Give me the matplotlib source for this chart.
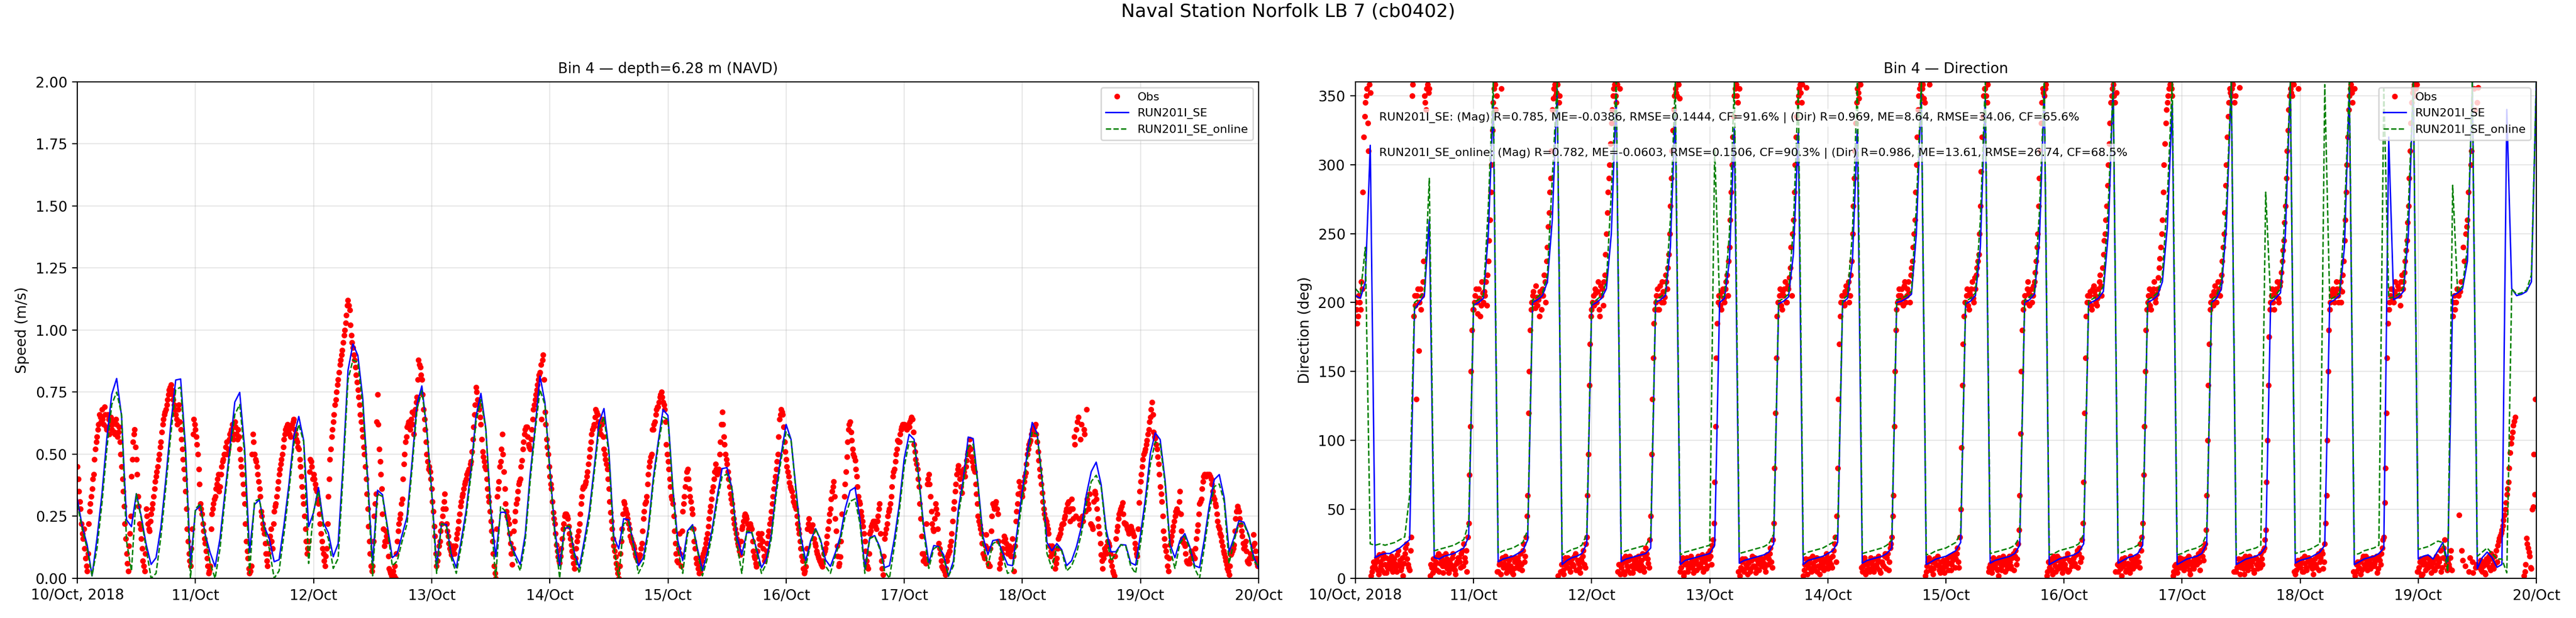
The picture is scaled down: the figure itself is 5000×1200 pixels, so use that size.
import numpy as np
import matplotlib
matplotlib.use("Agg")
import matplotlib.pyplot as plt
import matplotlib.dates as mdates
from matplotlib.ticker import MultipleLocator, FixedLocator, FixedFormatter, FormatStrFormatter
import datetime as dt

# ---------------- data ----------------
suptitle = "Naval Station Norfolk LB 7 (cb0402)"
title_speed = "Bin 4 \u2014 depth=6.28 m (NAVD)"
title_dir = "Bin 4 \u2014 Direction"
series_names = ["Obs", "RUN201I_SE", "RUN201I_SE_online"]
day_labels = ["10/Oct, 2018", "11/Oct", "12/Oct", "13/Oct", "14/Oct", "15/Oct",
              "16/Oct", "17/Oct", "18/Oct", "19/Oct", "20/Oct"]
stats_text = [
    "RUN201I_SE: (Mag) R=0.785, ME=-0.0386, RMSE=0.1444, CF=91.6% | (Dir) R=0.969, ME=8.64, RMSE=34.06, CF=65.6%",
    "RUN201I_SE_online: (Mag) R=0.782, ME=-0.0603, RMSE=0.1506, CF=90.3% | (Dir) R=0.986, ME=13.61, RMSE=26.74, CF=68.5%",
]

# observed speed (m/s), samples at :00, :20, :40 of each hour from 10 Oct 00:00
obs_speed_a = [
 0.45,0.35,0.28, 0.18,0.20,0.08, 0.03,0.22,0.30, 0.36,0.42,0.52, 0.57,0.62,0.65, 0.68,0.62,0.66, 0.60,0.64,0.62, 0.60,0.63,0.58, 0.62,0.59,0.55, 0.45,0.35,0.22,
 0.10,0.03,0.18, 0.41,0.55,0.60, 0.48,0.33,0.22, 0.16,0.07,0.03, 0.28,0.22,0.19, 0.26,0.30,0.36, 0.41,0.45,0.50, 0.55,0.62,0.66, 0.68,0.72,0.76, 0.78,0.74,0.70,
 0.66,0.62,0.70, 0.60,0.52,0.44, 0.35,0.20,0.10, 0.05,0.20,0.64, 0.60,0.54,0.44, 0.30,0.26,0.19, 0.14,0.08,0.02, 0.05,0.26,0.30, 0.33,0.38,0.42, 0.37,0.45,0.48,
 0.50,0.55,0.52, 0.58,0.60,0.56, 0.63,0.58,0.60, 0.52,0.45,0.38, 0.30,0.15,0.08, 0.02,0.05,0.58, 0.50,0.47,0.42, 0.36,0.27,0.22, 0.18,0.10,0.05, 0.14,0.20,0.12,
 0.27,0.30,0.36, 0.42,0.46,0.50, 0.56,0.60,0.62, 0.60,0.57,0.62, 0.64,0.58,0.55, 0.52,0.45,0.37, 0.30,0.20,0.10, 0.15,0.48,0.45, 0.42,0.38,0.35, 0.30,0.22,0.15,
 0.10,0.05,0.12, 0.33,0.48,0.57, 0.63,0.70,0.75, 0.80,0.86,0.90, 0.95,1.00,1.06, 1.12,1.08,0.98, 0.93,0.88,0.82, 0.76,0.70,0.63, 0.57,0.50,0.40, 0.28,0.15,0.05,
 0.05,0.25,0.34, 0.74,0.52,0.42, 0.26,0.13,0.19, 0.15,0.04,0.02, 0.02,0.01,0.00, 0.15,0.22,0.26, 0.32,0.46,0.55, 0.61,0.63,0.60, 0.67,0.58,0.68, 0.73,0.88,0.85,
 0.80,0.68,0.60, 0.50,0.44,0.43, 0.36,0.27,0.17, 0.05,0.10,0.15, 0.22,0.28,0.34, 0.22,0.17,0.12, 0.095,0.13,0.10, 0.16,0.20,0.26, 0.31,0.34,0.38, 0.40,0.43,0.44,
 0.47,0.56,0.66, 0.77,0.72,0.68, 0.62,0.51,0.47, 0.44,0.36,0.31, 0.23,0.15,0.05, 0.00,0.33,0.39, 0.47,0.58,0.43, 0.30,0.25,0.22, 0.14,0.055,0.19, 0.27,0.32,0.38,
 0.40,0.475,0.55, 0.60,0.61,0.54, 0.52,0.60,0.68, 0.72,0.76,0.80, 0.83,0.64,0.90, 0.67,0.56,0.50, 0.41,0.36,0.265, 0.22,0.135,0.087, 0.063,0.12,0.20, 0.25,0.26,0.24,
 0.18,0.135,0.087, 0.04,0.12,0.17, 0.22,0.30,0.36, 0.37,0.39,0.43, 0.49,0.55,0.60, 0.62,0.68,0.66, 0.61,0.58,0.64, 0.52,0.48,0.44, 0.36,0.265,0.20, 0.13,0.087,0.04,
 0.00,0.10,0.20, 0.31,0.28,0.26, 0.22,0.17,0.15, 0.13,0.10,0.08, 0.08,0.095,0.14, 0.24,0.30,0.33, 0.42,0.47,0.50, 0.60,0.63,0.68, 0.69,0.73,0.75, 0.71,0.68,0.54,
 0.47,0.40,0.33, 0.30,0.19,0.10, 0.065,0.18,0.05, 0.27,0.33,0.40, 0.44,0.36,0.31, 0.26,0.15,0.08, 0.06,0.02,0.05, 0.087,0.11,0.14, 0.18,0.24,0.29, 0.35,0.40,0.46,
 0.42,0.44,0.55, 0.67,0.57,0.50, 0.46,0.40,0.34, 0.30,0.24,0.20, 0.16,0.13,0.095, 0.20,0.23,0.26, 0.24,0.20,0.22, 0.20,0.11,0.08, 0.047,0.18,0.135, 0.18,0.12,0.07,
 0.11,0.17,0.22, 0.27,0.33,0.39, 0.44,0.50,0.64, 0.68,0.66,0.55, 0.48,0.43,0.385, 0.36,0.33,0.30, 0.28,0.22,0.18, 0.12,0.07,0.02, 0.047,0.20,0.24, 0.19,0.216,0.16,
 0.13,0.10,0.08, 0.063,0.047,0.10, 0.12,0.17,0.23, 0.28,0.35,0.39, 0.24,0.13,0.05, 0.087,0.26,None, 0.38,0.49,0.60, 0.63,0.555,0.50, 0.475,0.41,0.33, 0.30,0.25,0.21,
 0.15,0.07,0.04, 0.18,0.21,0.23, 0.23,0.20,0.25, 0.30,0.07,0.015, 0.16,0.20,0.25, 0.28,0.33,0.41, 0.44,0.50,0.555, 0.55,0.60,0.62, 0.62,0.61,0.61, 0.61,0.64,0.64,
 0.54,0.48,0.44, 0.37,0.24,0.10, 0.10,0.06,0.38, 0.42,0.33,0.22, 0.19,0.30,0.26, 0.14,0.10,0.047, 0.04,0.015,0.07, 0.10,0.13,0.18, 0.28,0.35,0.42, 0.455,0.40,0.345,
 0.44,0.41,0.475, 0.51,0.56,0.49, 0.45,0.43,0.34, 0.25,0.216,0.18, 0.10,0.08,0.176, 0.06,0.05,0.19, 0.30,0.28,0.31, 0.26,0.04,0.08, 0.12,0.17,0.14, 0.10,0.13,0.09,
 0.16,0.03,0.23, 0.30,0.39,0.345, 0.33,0.39,0.425, 0.50,0.54,0.555, 0.60,0.58,0.62, 0.55,0.475,0.41, 0.345,0.28,0.24, 0.216,0.18,0.09, 0.13,0.10,0.04, 0.08,0.16,0.18,
 0.216,0.22,0.25, 0.28,0.31,0.23, 0.32,0.24,0.54, 0.60,0.65,0.216, 0.62,0.23,0.58, 0.68,0.30,0.34, 0.216,0.20,0.35, 0.32,0.24,0.18, 0.095,0.04,0.12, 0.10,0.15,0.13,
 0.07,0.03,0.01, 0.16,0.21,0.26, 0.28,0.305,0.225, 0.22,0.20,0.18, 0.21,0.19,0.17, 0.12,0.09,0.305, 0.39,0.45,0.50, 0.52,0.555,0.60, 0.65,0.71,0.59, 0.565,0.52,0.46,
 0.37,0.31,0.19, 0.13,0.087,0.03, 0.135,0.17,0.21, 0.25,0.28,0.265, 0.35,0.19,0.144, 0.13,0.07,0.06, 0.06,0.11,0.09, 0.08,0.16,0.216, 0.30,0.32,0.39, 0.42,0.41,0.42,
 0.42,0.40,0.35, 0.32,0.29,0.23, 0.20,0.17,0.13, 0.10,0.07,0.04, 0.015,0.095,0.11, 0.135,0.24,0.29, 0.27,0.216,0.17, 0.12,0.15,0.07, 0.06,0.10,0.08, 0.176,0.11,0.06,
]
# observed speed (m/s), samples at :10, :30, :50 of each hour
obs_speed_b = [
 0.40,0.31,0.22, 0.16,0.12,0.05, 0.10,0.27,0.33, 0.40,0.48,0.55, 0.60,0.66,0.63, 0.64,0.69,0.61, 0.66,0.58,0.65, 0.62,0.59,0.64, 0.57,0.61,0.50, 0.40,0.29,0.16,
 0.06,0.13,0.25, 0.48,0.58,0.53, 0.42,0.29,0.20, 0.12,0.05,0.10, 0.25,0.20,0.23, 0.28,0.33,0.39, 0.43,0.48,0.53, 0.59,0.64,0.67, 0.70,0.74,0.77, 0.76,0.72,0.68,
 0.64,0.68,0.63, 0.56,0.48,0.40, 0.28,0.15,0.07, 0.12,0.58,0.62, 0.57,0.50,0.38, 0.28,0.22,0.16, 0.11,0.05,0.03, 0.20,0.28,0.32, 0.36,0.40,0.35, 0.42,0.47,0.50,
 0.53,0.50,0.56, 0.59,0.62,0.58, 0.61,0.56,0.57, 0.48,0.42,0.34, 0.22,0.11,0.04, 0.03,0.50,0.55, 0.48,0.45,0.39, 0.33,0.25,0.20, 0.14,0.07,0.10, 0.17,0.15,0.22,
 0.29,0.33,0.39, 0.44,0.48,0.53, 0.58,0.61,0.59, 0.58,0.61,0.63, 0.60,0.56,0.53, 0.48,0.41,0.33, 0.25,0.15,0.12, 0.43,0.47,0.40, 0.40,0.36,0.32, 0.26,0.18,0.12,
 0.07,0.09,0.22, 0.40,0.52,0.60, 0.66,0.72,0.78, 0.83,0.88,0.92, 0.98,1.03,1.10, 1.10,1.02,0.95, 0.90,0.85,0.79, 0.73,0.66,0.60, 0.53,0.45,0.34, 0.21,0.10,0.03,
 0.15,0.30,0.63, 0.62,0.47,0.36, 0.20,0.15,0.17, 0.09,0.03,0.01, 0.03,0.05,0.10, 0.19,0.24,0.30, 0.40,0.50,0.57, 0.62,0.61,0.64, 0.62,0.66,0.71, 0.80,0.86,0.82,
 0.74,0.64,0.55, 0.47,0.45,0.40, 0.31,0.21,0.10, 0.07,0.13,0.19, 0.25,0.31,0.28, 0.19,0.14,0.11, 0.11,0.12,0.13, 0.18,0.23,0.29, 0.33,0.36,0.39, 0.42,0.44,0.46,
 0.51,0.61,0.70, 0.75,0.70,0.65, 0.56,0.49,0.45, 0.40,0.33,0.27, 0.19,0.10,0.02, 0.20,0.36,0.45, 0.52,0.50,0.36, 0.27,0.24,0.18, 0.10,0.12,0.23, 0.30,0.35,0.39,
 0.45,0.52,0.58, 0.61,0.57,0.53, 0.56,0.64,0.70, 0.74,0.78,0.82, 0.86,0.88,0.80, 0.62,0.53,0.45, 0.38,0.31,0.24, 0.18,0.11,0.07, 0.09,0.16,0.22, 0.26,0.25,0.21,
 0.16,0.11,0.06, 0.08,0.15,0.19, 0.26,0.33,0.37, 0.38,0.41,0.46, 0.52,0.58,0.61, 0.65,0.67,0.63, 0.60,0.62,0.57, 0.50,0.46,0.40, 0.31,0.23,0.16, 0.11,0.06,0.02,
 0.05,0.15,0.26, 0.30,0.27,0.24, 0.20,0.16,0.14, 0.12,0.09,0.07, 0.09,0.12,0.19, 0.27,0.31,0.38, 0.45,0.49,0.60, 0.62,0.66,0.69, 0.71,0.74,0.73, 0.70,0.63,0.50,
 0.44,0.37,0.32, 0.25,0.14,0.07, 0.12,0.10,0.19, 0.30,0.37,0.43, 0.40,0.33,0.28, 0.20,0.12,0.06, 0.04,0.03,0.07, 0.10,0.12,0.16, 0.21,0.27,0.32, 0.37,0.43,0.44,
 0.43,0.50,0.62, 0.62,0.54,0.48, 0.43,0.37,0.32, 0.27,0.22,0.18, 0.14,0.11,0.15, 0.21,0.25,0.25, 0.22,0.21,0.21, 0.15,0.09,0.06, 0.11,0.16,0.16, 0.15,0.09,0.09,
 0.14,0.19,0.24, 0.30,0.36,0.41, 0.47,0.57,0.66, 0.67,0.61,0.51, 0.45,0.41,0.37, 0.35,0.31,0.29, 0.25,0.20,0.15, 0.09,0.04,0.03, 0.12,0.22,0.21, 0.20,0.19,0.14,
 0.11,0.09,0.07, 0.055,0.07,0.11, 0.14,0.20,0.26, 0.32,0.37,0.33, 0.19,0.09,0.06, 0.15,None,0.33, 0.43,0.55,0.62, 0.59,0.52,0.49, 0.44,0.37,0.31, 0.27,0.23,0.18,
 0.11,0.05,0.10, 0.19,0.22,0.22, 0.21,0.23,0.28, 0.18,0.04,0.09, 0.18,0.22,0.27, 0.30,0.37,0.43, 0.47,0.52,0.55, 0.58,0.61,0.62, 0.61,0.60,0.62, 0.63,0.65,0.59,
 0.51,0.46,0.40, 0.30,0.17,0.07, 0.08,0.22,0.40, 0.38,0.27,0.20, 0.24,0.28,0.20, 0.12,0.07,0.04, 0.03,0.04,0.09, 0.11,0.15,0.23, 0.31,0.38,0.44, 0.43,0.37,0.42,
 0.43,0.45,0.50, 0.53,0.52,0.47, 0.44,0.38,0.30, 0.23,0.20,0.14, 0.09,0.13,0.12, 0.05,0.12,0.25, 0.29,0.30,0.28, 0.15,0.06,0.10, 0.15,0.16,0.12, 0.11,0.11,0.12,
 0.09,0.13,0.27, 0.34,0.37,0.34, 0.36,0.41,0.46, 0.52,0.55,0.58, 0.59,0.61,0.58, 0.51,0.44,0.38, 0.31,0.26,0.23, 0.20,0.13,0.11, 0.12,0.07,0.06, 0.12,0.17,0.20,
 0.22,0.24,0.27, 0.30,0.27,0.28, 0.28,0.57,0.25, 0.63,0.24,0.56, 0.25,0.60,0.27, 0.32,0.28,0.22, 0.21,0.31,0.34, 0.28,0.21,0.14, 0.07,0.08,0.11, 0.13,0.14,0.10,
 0.05,0.02,0.09, 0.19,0.24,0.27, 0.29,0.26,0.22, 0.21,0.19,0.20, 0.20,0.18,0.14, 0.10,0.20,0.35, 0.42,0.48,0.51, 0.54,0.58,0.63, 0.68,0.66,0.57, 0.54,0.49,0.42,
 0.34,0.25,0.16, 0.11,0.05,0.08, 0.15,0.19,0.23, 0.27,0.27,0.31, 0.26,0.16,0.14, 0.10,0.065,0.06, 0.08,0.10,0.085, 0.12,0.19,0.26, 0.31,0.36,0.41, 0.415,0.42,0.42,
 0.41,0.38,0.33, 0.30,0.26,0.21, 0.18,0.15,0.11, 0.085,0.055,0.03, 0.05,0.10,0.12, 0.19,0.27,0.28, 0.24,0.19,0.14, 0.13,0.11,0.065, 0.08,0.09,0.13, 0.14,0.08,0.05,
]

# model speed (m/s), hourly from 10 Oct 00:00
se_speed = [
 0.32,0.21,0.136,0.01,0.16,0.337,0.563,0.741,0.805,0.652,0.236,0.208,0.341,0.249,0.136,0.056,0.083,0.208,0.402,0.62,
 0.799,0.803,0.523,0.056,0.273,0.293,0.176,0.103,0.047,0.16,0.345,0.523,0.71,0.749,0.523,0.105,0.297,0.317,0.208,0.16,
 0.067,0.075,0.216,0.378,0.571,0.652,0.555,0.208,0.265,0.366,0.224,0.184,0.087,0.14,0.458,0.838,0.944,0.898,0.725,0.402,
 0.059,0.355,0.337,0.21,0.083,0.10,0.176,0.249,0.466,0.70,0.775,0.60,0.353,0.047,0.22,0.216,0.095,0.043,0.152,0.273,
 0.442,0.652,0.745,0.604,0.28,0.087,0.266,0.266,0.144,0.095,0.055,0.176,0.418,0.604,0.815,0.709,0.442,0.20,0.051,0.20,
 0.207,0.103,0.043,0.152,0.265,0.442,0.628,0.684,0.515,0.168,0.119,0.24,0.236,0.14,0.051,0.083,0.20,0.40,0.547,0.68,
 0.656,0.362,0.152,0.071,0.192,0.216,0.119,0.031,0.103,0.20,0.33,0.442,0.446,0.362,0.168,0.095,0.184,0.184,0.119,0.043,
 0.079,0.176,0.362,0.50,0.62,0.56,0.362,0.168,0.071,0.152,0.20,0.156,0.075,0.048,0.103,0.168,0.28,0.353,0.366,0.24,
 0.039,0.164,0.172,0.128,0.043,0.051,0.16,0.297,0.483,0.58,0.56,0.40,0.20,0.063,0.132,0.128,0.095,0.008,0.071,0.28,
 0.40,0.569,0.563,0.378,0.168,0.095,0.152,0.156,0.103,0.055,0.051,0.20,0.353,0.507,0.628,0.584,0.40,0.144,0.111,0.14,
 0.115,0.051,0.071,0.128,0.208,0.337,0.43,0.468,0.378,0.20,0.107,0.107,0.136,0.134,0.063,0.053,0.176,0.321,0.503,0.586,
 0.559,0.394,0.136,0.083,0.152,0.18,0.128,0.051,0.043,0.16,0.297,0.398,0.418,0.325,0.107,0.164,0.232,0.226,0.176,0.087,
 0.039,
]
online_speed = [
 0.30,0.20,0.12,0.01,0.12,0.30,0.52,0.70,0.75,0.66,0.15,0.03,0.34,0.24,0.12,0.0,0.02,0.17,0.37,0.58,
 0.76,0.77,0.50,0.0,0.28,0.30,0.17,0.06,0.0,0.12,0.32,0.50,0.66,0.70,0.50,0.02,0.31,0.32,0.20,0.12,
 0.0,0.03,0.18,0.35,0.54,0.62,0.55,0.06,0.27,0.35,0.21,0.16,0.04,0.08,0.42,0.80,0.88,0.87,0.70,0.38,
 0.01,0.34,0.33,0.20,0.05,0.07,0.15,0.22,0.44,0.68,0.755,0.60,0.34,0.02,0.22,0.21,0.08,0.02,0.13,0.25,
 0.42,0.63,0.72,0.60,0.26,0.0,0.29,0.27,0.14,0.08,0.03,0.15,0.39,0.59,0.76,0.70,0.43,0.18,0.0,0.21,
 0.21,0.09,0.02,0.13,0.24,0.42,0.60,0.65,0.50,0.13,0.0,0.22,0.23,0.13,0.02,0.06,0.18,0.38,0.53,0.65,
 0.64,0.35,0.12,0.02,0.18,0.21,0.11,0.01,0.08,0.18,0.31,0.41,0.42,0.36,0.14,0.02,0.19,0.19,0.11,0.02,
 0.06,0.16,0.34,0.48,0.59,0.56,0.35,0.14,0.05,0.14,0.20,0.15,0.05,0.02,0.09,0.15,0.25,0.31,0.32,0.22,
 0.02,0.16,0.17,0.12,0.03,0.0,0.13,0.27,0.45,0.55,0.55,0.39,0.18,0.04,0.12,0.13,0.08,0.01,0.05,0.25,
 0.38,0.53,0.54,0.37,0.14,0.05,0.14,0.15,0.09,0.02,0.03,0.17,0.32,0.48,0.59,0.58,0.40,0.10,0.04,0.13,
 0.11,0.03,0.05,0.10,0.18,0.30,0.39,0.415,0.37,0.18,0.07,0.10,0.135,0.13,0.05,0.02,0.14,0.29,0.46,0.55,
 0.54,0.38,0.12,0.04,0.14,0.17,0.12,0.04,0.0,0.13,0.27,0.37,0.38,0.31,0.06,0.15,0.22,0.22,0.17,0.07,
 0.05,
]

# observed direction (deg), samples at :00, :20, :40
obs_dir_a = [
 200,185,205, 195,210,320, 345,355,310, 352,5,12, 8,15,3, 12,6,18, 10,4,14, 7,16,9, 11,5,20, 13,8,2,
 18,25,10, 6,30,358, 205,130,210, 200,195,215, 350,340,358, 355,10,4, 8,12,16, 5,14,9, 12,18,7, 4,10,15,
 9,3,12, 15,8,20, 25,12,5, 40,110,180, 195,205,200, 210,190,215, 200,205,198, 230,260,300, 345,358,350, 5,12,355,
 8,14,4, 10,6,15, 3,12,8, 15,7,10, 20,12,30, 60,150,195, 205,200,212, 198,190,205, 210,220,200, 240,265,290,
 340,355,350, 358,345,5, 10,3,15, 8,12,5, 14,9,18, 6,11,4, 12,20,8, 30,90,170, 195,205,210, 200,215,190,
 205,198,220, 250,280,300, 330,350,358, 345,5,355, 8,14,3, 12,6,16, 9,4,11, 15,7,12, 10,18,5, 22,14,8,
 45,130,185, 200,210,195, 205,215,200, 220,210,235, 270,310,340, 355,350,358, 5,12,2, 10,15,7, 8,13,4, 11,6,16,
 9,14,5, 12,7,18, 20,10,28, 70,160,200, 205,195,210, 200,215,205, 240,280,320, 350,358,345, 355,8,14, 5,10,3,
 12,7,16, 9,4,13, 6,15,10, 11,5,17, 14,22,8, 40,120,190, 200,210,195, 205,215,200, 210,225,205, 260,300,335,
 350,358,345, 2,10,356, 8,14,5, 11,6,15, 9,3,12, 14,8,18, 7,12,10, 16,25,12, 80,170,200, 205,198,212,
 210,200,220, 250,290,330, 355,348,358, 5,12,3, 10,7,15, 13,5,9, 8,16,4, 12,9,18, 15,6,22, 30,60,150,
 195,205,200, 210,198,215, 205,215,200, 225,240,260, 300,340,355, 350,358,345, 5,12,358, 8,3,14, 10,16,6, 12,7,4,
 9,15,11, 6,13,18, 14,22,8, 50,140,190, 200,210,195, 205,215,200, 210,225,235, 270,320,350, 355,345,5, 10,4,15,
 8,13,2, 11,6,16, 5,14,9, 12,7,18, 16,10,25, 60,150,195, 205,200,215, 198,210,205, 215,230,250, 290,330,355,
 350,358,5, 8,14,3, 12,5,16, 9,11,4, 14,7,18, 6,12,10, 15,9,20, 18,12,28, 70,160,200, 200,208,195,
 212,205,198, 210,220,205, 235,250,270, 300,330,350, 358,345,352, 5,12,2, 9,15,6, 11,4,14, 7,13,10, 16,8,20,
 40,110,180, 200,210,195, 205,215,200, 210,225,240, 260,300,330, 345,355,358, 350,5,10, 4,12,8, 14,6,11, 9,16,3,
 12,7,15, 10,18,6, 20,13,25, 60,140,195, 205,198,212, 200,215,205, 220,240,265, 300,335,355, 350,358,345, 5,10,356,
 8,14,3, 12,6,16, 9,13,4, 15,7,11, 18,10,22, 35,100,175, 200,210,195, 205,215,200, 215,230,245, 270,310,340,
 355,350,358, 3,10,355, 8,14,5, 11,6,15, 9,13,3, 14,8,18, 12,20,7, 25,60,150, 195,205,210, 200,215,205,
 210,200,220, 245,280,320, 350,358,345, 355,5,12, 8,3,14, 10,16,6, 12,7,15, 9,13,4, 16,10,22, 30,80,160,
 195,205,210, 200,215,205, 210,198,220, 215,230,245, 270,310,345, 355,350,358, 5,12,2, 10,15,7, 8,13,4, 12,6,16,
 9,14,5, 15,28,10, 12,8,20, 190,205,200, 210,46,215, 13,230,250, 260,5,300, 12,355,8, 345,8,13, 5,12,3,
 10,16,6, 14,7,11, 12,27,31, 35,42,50, 61,70,91, 102,111,117, None,None,None, None,None,5, 29,22,16, 7,52,61,
]
# observed direction (deg), samples at :10, :30, :50
obs_dir_b = [
 195,190,200, 215,280,335, 350,330,358, 2,8,10, 12,6,17, 9,14,4, 15,8,11, 12,5,14, 8,17,10, 6,15,11,
 22,14,8, 20,350,190, 198,205,165, 210,205,230, 345,355,352, 2,8,14, 10,6,18, 11,16,4, 9,14,11, 13,7,18,
 6,11,15, 12,18,9, 15,20,30, 75,150,195, 200,210,192, 203,198,207, 208,215,220, 245,280,325, 355,340,5, 10,3,15,
 11,16,7, 13,9,4, 7,15,11, 12,18,6, 25,16,45, 120,180,200, 208,196,204, 202,208,195, 205,215,230, 255,280,310,
 348,358,352, 2,350,10, 6,12,9, 15,7,11, 10,16,6, 13,8,14, 16,10,25, 60,140,190, 200,198,207, 208,195,212,
 210,215,235, 265,290,315, 340,355,350, 358,10,3, 11,5,16, 9,13,4, 14,7,12, 10,16,6, 13,8,15, 18,11,28,
 90,160,195, 205,195,212, 200,208,204, 215,225,250, 290,325,350, 352,358,348, 8,15,4, 12,5,11, 16,9,6, 13,10,8,
 11,17,7, 15,9,14, 16,24,40, 110,185,205, 198,208,203, 210,220,230, 260,300,335, 355,350,5, 2,12,6, 14,8,11,
 5,13,9, 15,7,11, 12,9,14, 8,16,10, 18,12,28, 80,160,200, 205,198,208, 210,200,212, 218,240,250, 280,320,345,
 355,352,358, 6,14,3, 11,7,16, 9,13,5, 14,8,11, 6,12,15, 10,15,8, 20,30,45, 130,190,205, 200,208,206,
 215,205,230, 270,310,345, 352,358,8, 9,15,6, 12,5,11, 8,14,10, 13,6,12, 10,16,7, 18,12,25, 45,110,180,
 200,210,205, 203,212,200, 210,207,220, 230,250,280, 320,350,358, 355,348,2, 9,15,6, 12,7,11, 14,9,4, 8,13,10,
 12,6,16, 10,15,8, 18,12,30, 95,170,200, 205,198,207, 210,203,218, 220,230,250, 295,335,355, 350,358,8, 6,12,9,
 11,6,15, 8,13,10, 12,7,16, 9,15,6, 20,14,35, 105,180,200, 200,210,207, 205,200,212, 222,240,270, 310,345,352,
 355,2,12, 11,6,16, 9,13,7, 14,8,11, 10,15,5, 13,9,14, 11,17,8, 22,15,40, 120,190,205, 205,198,210,
 208,200,203, 215,212,225, 245,260,285, 315,345,355, 350,5,10, 9,7,14, 12,5,10, 8,16,11, 14,9,12, 12,25,30,
 75,150,195, 205,198,208, 210,203,206, 218,232,250, 280,315,340, 350,358,355, 2,9,6, 8,15,11, 10,8,14, 13,6,11,
 9,14,12, 14,12,20, 16,22,35, 100,170,200, 200,208,205, 208,210,215, 230,250,285, 320,345,352, 355,5,350, 8,14,3,
 11,7,16, 9,14,10, 12,6,15, 10,13,8, 14,20,28, 70,140,195, 205,200,208, 210,203,212, 222,238,258, 290,325,350,
 352,358,5, 6,13,9, 11,5,16, 8,14,12, 12,7,10, 10,16,6, 15,18,12, 40,100,180, 200,208,205, 207,210,200,
 215,208,230, 260,300,340, 355,352,5, 2,10,7, 12,6,16, 8,13,10, 14,9,11, 11,16,7, 13,18,28, 55,120,185,
 200,210,203, 208,205,212, 205,215,210, 222,238,258, 290,330,352, 358,355,5, 8,14,3, 12,6,10, 15,9,11, 7,14,10,
 12,20,8, 22,14,6, 10,15,6, 200,195,210, 205,208,20, 240,9,255, 280,15,310, 4,340,10, 356,10,6, 9,4,14,
 12,8,18, 10,16,20, 24,29,33, 38,46,55, 65,80,98, 106,114,None, None,None,None, None,2,10, 25,19,8, 50,90,130,
]

# model direction (deg), hourly
se_dir = [
 205,203,215,314,15,17,18,18,20,22,25,28,195,200,205,260,15,14,16,17,
 18,20,22,30,198,200,203,250,347,12,14,15,16,18,20,28,200,202,205,215,
 260,355,10,13,15,16,18,25,198,200,203,210,250,351,12,14,15,16,17,18,
 22,200,202,205,240,342,10,13,14,15,16,17,18,24,200,203,230,326,11,13,
 14,15,16,17,19,25,199,201,204,235,323,10,13,14,15,16,18,20,26,200,
 203,230,325,11,13,14,15,16,18,22,200,201,203,206,250,355,10,12,14,15,
 16,18,20,26,199,201,205,240,350,11,13,14,15,16,18,24,200,202,206,245,
 355,10,12,14,15,16,17,19,25,199,201,203,208,250,360,11,13,15,16,18,
 24,200,202,205,215,255,345,10,12,14,15,16,18,25,200,203,210,255,360,10,
 12,14,15,16,18,23,200,203,207,250,360,11,13,14,15,17,19,24,200,202,
 205,240,356,10,12,14,15,16,18,22,320,202,204,208,250,360,14,16,17,14,
 20,26,12,205,207,210,230,360,7,15,19,15,8,10,340,210,205,206,208,215,
 360,
]
online_dir = [
 210,206,240,25,24,25,24,25,26,28,30,60,200,203,208,290,20,21,22,23,
 24,26,28,40,200,202,205,270,360,18,20,21,22,24,26,35,202,204,207,220,
 290,360,17,19,21,22,24,32,200,202,205,215,280,360,18,20,21,22,23,24,
 30,202,204,207,260,360,17,19,20,21,22,23,24,311,202,205,250,360,18,19,
 20,21,22,23,25,32,201,203,206,255,355,17,19,20,21,22,24,26,33,202,
 205,250,360,18,19,20,21,22,24,28,202,203,205,208,270,360,17,18,20,21,
 22,24,26,33,201,203,207,260,360,18,19,20,21,22,24,30,202,204,208,265,
 360,17,18,20,21,22,23,25,32,201,203,205,212,270,360,18,19,21,22,24,
 30,202,204,207,220,275,360,17,18,20,21,22,24,32,202,205,215,270,360,17,
 18,20,21,22,24,280,202,205,210,270,360,18,19,20,21,23,25,358,202,204,
 207,260,360,17,18,20,21,22,24,355,203,204,206,211,270,360,21,22,23,25,
 27,26,5,285,208,212,240,360,16,19,22,18,14,14,4,210,206,207,209,220,
 360,
]

# ---------------- figure ----------------
t0 = mdates.date2num(dt.datetime(2018, 10, 10))


def hourly(vals):
    return t0 + np.arange(len(vals)) / 24.0


def obs_times(vals, offset):
    return t0 + (np.arange(len(vals)) + offset) / 72.0


def obs_series(a, b):
    va = np.array(a, dtype=float)
    vb = np.array(b, dtype=float)
    tt = np.concatenate([obs_times(va, 0.0), obs_times(vb, 0.5)])
    vv = np.concatenate([va, vb])
    order = np.argsort(tt)
    return tt[order], vv[order]


fig = plt.figure(figsize=(25, 6), dpi=200)
ax1 = fig.add_axes([0.030, 0.0642, 0.4586, 0.8033])
ax2 = fig.add_axes([0.5262, 0.0642, 0.4584, 0.8033])

panels = [
    (ax1, obs_series(obs_speed_a, obs_speed_b), se_speed, online_speed),
    (ax2, obs_series(obs_dir_a, obs_dir_b), se_dir, online_dir),
]
for ax, (ot, ov), se, onl in panels:
    ax.plot(ot, ov, linestyle="none", marker="o", ms=4, mew=0,
            color="red", label=series_names[0])
    ax.plot(hourly(se), se, color="blue", lw=1.0, label=series_names[1])
    ax.plot(hourly(onl), onl, color="green", lw=1.0, ls="--", label=series_names[2])
    ax.set_xlim(t0, t0 + 10)
    ax.xaxis.set_major_locator(FixedLocator(t0 + np.arange(len(day_labels))))
    ax.xaxis.set_major_formatter(FixedFormatter(day_labels))
    ax.grid(True, alpha=0.3)
    ax.tick_params(labelsize=10)
    ax.legend(loc="upper right", fontsize=8)

ax1.set_ylim(0, 2.0)
ax1.yaxis.set_major_locator(MultipleLocator(0.25))
ax1.yaxis.set_major_formatter(FormatStrFormatter("%.2f"))
ax1.set_ylabel("Speed (m/s)", fontsize=10)
ax1.set_title(title_speed, fontsize=10)

ax2.set_ylim(0, 360)
ax2.yaxis.set_major_locator(MultipleLocator(50))
ax2.set_ylabel("Direction (deg)", fontsize=10)
ax2.set_title(title_dir, fontsize=10)

for i, txt in enumerate(stats_text):
    ax2.text(0.02, 0.928 - 0.071 * i, txt, transform=ax2.transAxes, fontsize=8,
             va="center", ha="left",
             bbox=dict(boxstyle="square,pad=0.3", facecolor="white", alpha=0.7,
                       edgecolor="none"))

fig.suptitle(suptitle, fontsize=13, y=0.995)
fig.savefig("out.png", dpi=200)
